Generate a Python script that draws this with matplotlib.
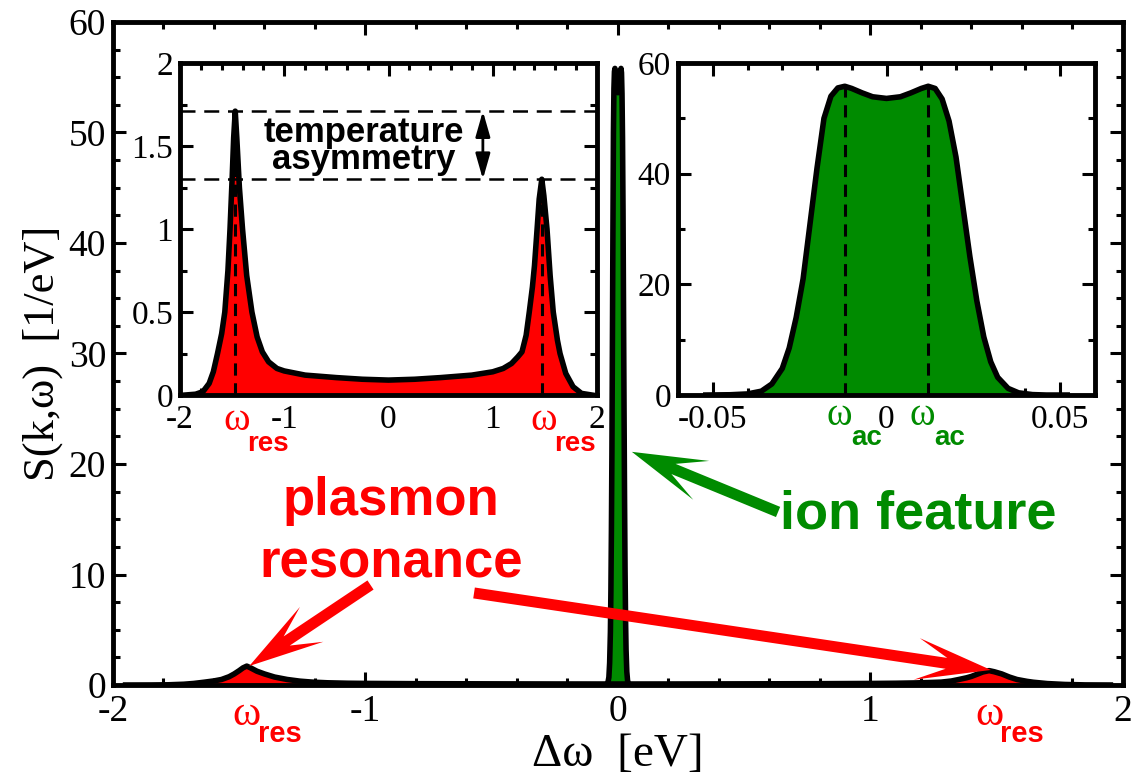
import numpy as np
import matplotlib
matplotlib.use("Agg")
import matplotlib.pyplot as plt
from matplotlib.patches import Polygon
from matplotlib.ticker import MultipleLocator, FormatStrFormatter

# plasmon (electron) feature
plasmon_w = [-1.95, -1.85, -1.78, -1.72, -1.68, -1.64, -1.60, -1.57, -1.54, -1.52,
             -1.50, -1.485, -1.47, -1.455, -1.43, -1.40, -1.36, -1.31, -1.26, -1.21,
             -1.15, -1.07, -1.00, -0.80, -0.50, -0.25, 0.00, 0.25, 0.50, 0.80,
             1.00, 1.10, 1.18, 1.24, 1.28, 1.32, 1.35, 1.38, 1.40, 1.425,
             1.445, 1.47, 1.49, 1.52, 1.55, 1.58, 1.62, 1.645, 1.70, 1.77, 1.85, 1.95]
plasmon_S = [0.0, 0.005, 0.02, 0.07, 0.14, 0.25, 0.37, 0.50, 0.75, 1.00,
             1.30, 1.55, 1.71, 1.55, 1.25, 1.00, 0.72, 0.50, 0.35, 0.26,
             0.20, 0.16, 0.145, 0.12, 0.105, 0.095, 0.09, 0.095, 0.105, 0.12,
             0.14, 0.16, 0.19, 0.23, 0.26, 0.36, 0.50, 0.65, 0.78, 1.00,
             1.18, 1.30, 1.20, 1.00, 0.72, 0.50, 0.33, 0.25, 0.13, 0.05, 0.01, 0.0]

# ion feature
ion_w = [-0.052, -0.045, -0.040, -0.036, -0.033, -0.030, -0.028, -0.026, -0.024, -0.022,
         -0.020, -0.018, -0.016, -0.014, -0.012, -0.010, -0.007, -0.004, 0.000, 0.004,
         0.007, 0.010, 0.012, 0.014, 0.016, 0.018, 0.020, 0.022, 0.024, 0.026,
         0.028, 0.030, 0.032, 0.035, 0.038, 0.042, 0.046, 0.052]
ion_S = [0.0, 0.05, 0.2, 0.7, 2.0, 4.8, 8.5, 14, 21, 31,
         41, 50, 54, 55.5, 55.8, 55.4, 54.6, 53.9, 53.6, 53.9,
         54.6, 55.4, 55.8, 55.4, 53.5, 49.5, 43, 34, 25, 17,
         10.5, 6, 3.2, 1.2, 0.4, 0.08, 0.0, 0.0]

w_res = [-1.47, 1.47]      # plasmon peak positions
S_res = [1.71, 1.30]       # plasmon peak heights
w_ac = [-0.012, 0.012]     # ion acoustic peaks
S_ac = [55.8, 55.8]

RED = "#ff0000"
GREEN = "#008b00"
SERIF = "Liberation Serif"
SANS = "Liberation Sans"

plt.rcParams['font.family'] = 'serif'
plt.rcParams['font.serif'] = [SERIF, 'DejaVu Serif']
plt.rcParams['axes.unicode_minus'] = False
plt.rcParams['font.size'] = 24


def style_axes(ax, mx, nx, my, ny, fs):
    ax.xaxis.set_major_locator(MultipleLocator(mx))
    ax.xaxis.set_minor_locator(MultipleLocator(nx))
    ax.yaxis.set_major_locator(MultipleLocator(my))
    ax.yaxis.set_minor_locator(MultipleLocator(ny))
    ax.xaxis.set_major_formatter(FormatStrFormatter('%g'))
    ax.yaxis.set_major_formatter(FormatStrFormatter('%g'))
    ax.tick_params(which='both', direction='in', top=True, right=True, width=2.2,
                   labelsize=fs)
    ax.tick_params(which='major', length=9.5)
    ax.tick_params(which='minor', length=5)
    ax.tick_params(axis='x', pad=7)
    ax.tick_params(axis='y', pad=5)
    for s in ax.spines.values():
        s.set_linewidth(3.5)


def draw_curve(ax, w, S, color):
    ax.fill_between(w, S, 0, color=color, lw=0, zorder=2)
    ax.plot(w, S, color='k', lw=4, solid_joinstyle='round', zorder=3)


def peak_label(ax, x, sub, color, wo, so, fw=30, fs=20):
    ax.annotate("\u03c9", xy=(x, 0), xycoords=('data', 'axes fraction'),
                xytext=wo, textcoords='offset points', ha='center', va='center',
                color=color, fontsize=fw, fontfamily=SERIF, annotation_clip=False)
    ax.annotate(sub, xy=(x, 0), xycoords=('data', 'axes fraction'),
                xytext=so, textcoords='offset points', ha='center', va='center',
                color=color, fontsize=fs, fontfamily=SANS, fontweight='bold',
                annotation_clip=False)


def big_arrow(fig, ax, tail, tip, color, L=75, H=21, t=5.5, neck=0.6):
    # notched arrow head in the style of the original, built in pixel space
    p0 = ax.transData.transform(tail)
    p1 = ax.transData.transform(tip)
    d = p1 - p0
    u = d / np.hypot(d[0], d[1])
    n = np.array([-u[1], u[0]])
    back = p1 - L * u
    nk = p1 - neck * L * u
    pts = [p0 + t * n, nk + t * n, back + H * n, p1, back - H * n, nk - t * n, p0 - t * n]
    pts = fig.transFigure.inverted().transform(np.array(pts))
    ax.add_patch(Polygon(pts, closed=True, transform=fig.transFigure, facecolor=color,
                         edgecolor='none', zorder=6, clip_on=False))


fig = plt.figure(figsize=(11.34, 7.77), dpi=100)

# main panel
ax = fig.add_axes([0.0996, 0.1184, 0.8907, 0.8533])
draw_curve(ax, plasmon_w, plasmon_S, RED)
draw_curve(ax, ion_w, ion_S, GREEN)
ax.set_xlim(-2, 2)
ax.set_ylim(0, 60)
style_axes(ax, 1, 0.2, 10, 2.5, 27)
ax.set_xlabel("\u0394\u03c9  [eV]", fontsize=34, labelpad=3)
ax.set_ylabel("S(k,\u03c9)  [1/eV]", fontsize=32, labelpad=4)
for x in w_res:
    peak_label(ax, x, "res", RED, (0, -21.6), (23.8, -35.5), fw=31, fs=21)

ax.text(-0.90, 13.85, "plasmon\nresonance", color=RED, fontsize=38, fontfamily=SANS,
        fontweight='bold', ha='center', va='center', linespacing=1.33)
ax.text(1.19, 15.4, "ion feature", color=GREEN, fontsize=39, fontfamily=SANS,
        fontweight='bold', ha='center', va='center')
big_arrow(fig, ax, (-0.98, 9.05), (-1.46, 1.72), RED)
big_arrow(fig, ax, (-0.57, 8.33), (1.477, 1.36), RED)
big_arrow(fig, ax, (0.634, 15.66), (0.055, 21.1), GREEN)

# left inset: plasmon
ax1 = fig.add_axes([0.1587, 0.4916, 0.3678, 0.4273])
ax1.set_facecolor('white')
draw_curve(ax1, plasmon_w, plasmon_S, RED)
ax1.vlines(w_res, 0, S_res, colors='k', lw=2.2, linestyles=(0, (4, 2.5)), zorder=2.5)
for h in S_res:
    ax1.axhline(h, color='k', lw=1.8, ls=(0, (6, 3.5)), zorder=4)
ax1.annotate("", xy=(0.905, S_res[0]), xytext=(0.905, S_res[1]),
             arrowprops=dict(arrowstyle="<|-|>,head_length=0.7,head_width=0.2",
                             color='k', lw=2, mutation_scale=22,
                             shrinkA=0, shrinkB=0))
ax1.text(-0.24, 1.50, "temperature\nasymmetry", fontsize=25, fontfamily=SANS,
         fontweight='bold', ha='center', va='center', linespacing=0.8)
ax1.set_xlim(-2, 2)
ax1.set_ylim(0, 2)
style_axes(ax1, 1, 0.2, 0.5, 0.25, 24)
for x in w_res:
    peak_label(ax1, x, "res", RED, (1.4, -18.5), (23.8, -35), fw=29, fs=20)

# right inset: ion feature
ax2 = fig.add_axes([0.5979, 0.4916, 0.3677, 0.4273])
ax2.set_facecolor('white')
draw_curve(ax2, ion_w, ion_S, GREEN)
ax2.vlines(w_ac, 0, S_ac, colors='k', lw=2.2, linestyles=(0, (4, 2.5)), zorder=3.5)
ax2.set_xlim(-0.06, 0.06)
ax2.set_ylim(0, 60)
style_axes(ax2, 0.05, 0.01, 20, 10, 24)
for x in w_ac:
    peak_label(ax2, x, "ac", GREEN, (-4.3, -15), (15.5, -31), fw=28, fs=20)

fig.savefig("out.png", dpi=100)
